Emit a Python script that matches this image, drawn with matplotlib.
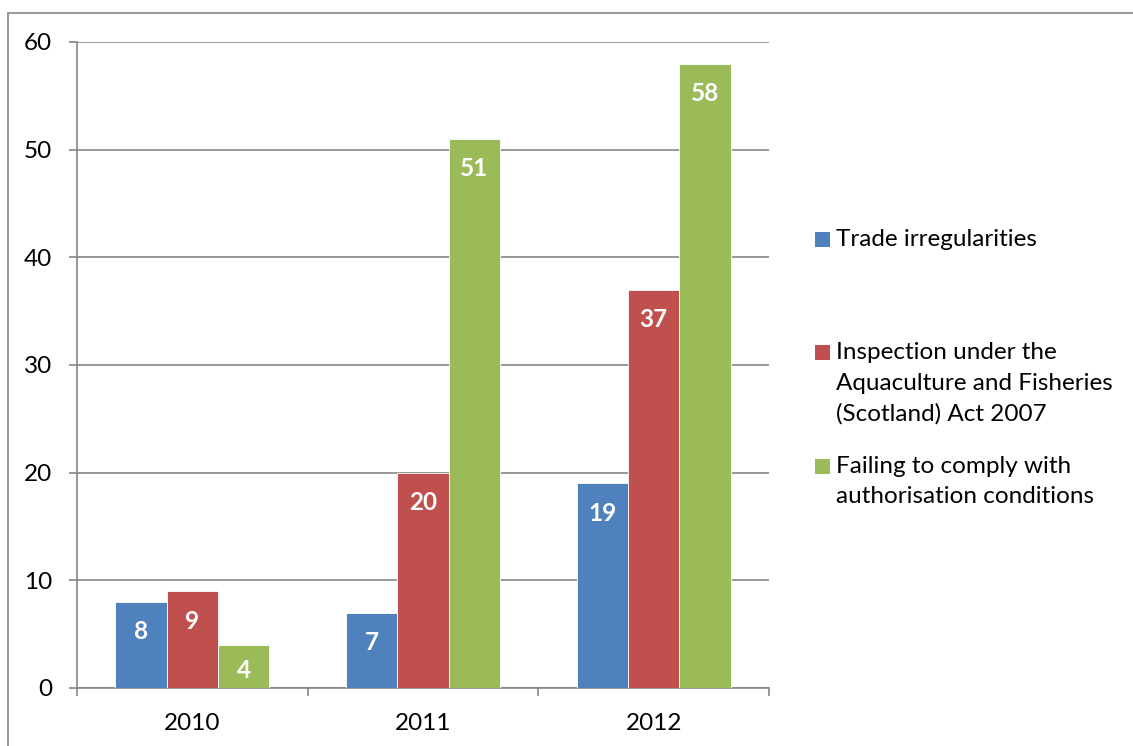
import matplotlib
matplotlib.use("Agg")
import matplotlib.pyplot as plt
import numpy as np
from matplotlib.patches import Rectangle

years = ['2010', '2011', '2012']
series = ['Trade irregularities',
          'Inspection under the\nAquaculture and Fisheries\n(Scotland) Act 2007',
          'Failing to comply with\nauthorisation conditions']
trade = [8, 7, 19]
inspection = [9, 20, 37]
failing = [4, 51, 58]
colors = ['#4F81BD', '#C0504D', '#9BBB59']

plt.rcParams['font.family'] = ['Lato', 'DejaVu Sans']
FS = 17.5

W, H = 1133, 746
fig = plt.figure(figsize=(W / 100, H / 100), dpi=100)
ax = fig.add_axes([77 / W, 1 - 688 / H, (769 - 77) / W, (688 - 42) / H])

# chart area border (runs off the right and bottom edge)
fig.patches.append(Rectangle((8 / W, -0.1), 1.2, 1 - 13 / H + 0.1, transform=fig.transFigure,
                             fill=False, edgecolor='#868686', linewidth=1.2))

x = np.arange(len(years))
w = 1 / 4.5  # gap width 150%
values = [trade, inspection, failing]
px_per_unit = (688 - 42) / 60

for i, (vals, c) in enumerate(zip(values, colors)):
    bars = ax.bar(x + (i - 1) * w, vals, w, color=c, edgecolor='white', linewidth=0.6, zorder=3)
    for b, v in zip(bars, vals):
        hpx = v * px_per_unit
        off = min(30, hpx / 2 + 4)
        ax.annotate(str(v), (b.get_x() + b.get_width() / 2, v), xytext=(0, -off),
                    textcoords='offset pixels', ha='center', va='center',
                    color='white', fontsize=FS, fontweight='bold', zorder=4)

ax.set_xlim(-0.5, 2.5)
ax.set_ylim(0, 60)
ax.set_yticks(range(0, 61, 10))
ax.yaxis.grid(True, color='#868686', linewidth=1.2, zorder=0)
ax.tick_params(axis='y', length=6, width=1.2, color='#868686', labelsize=FS, pad=12)
ax.set_xticks([-0.5, 0.5, 1.5, 2.5])
ax.set_xticklabels([])
ax.set_xticks(x, minor=True)
ax.set_xticklabels(years, minor=True)
ax.tick_params(axis='x', which='major', length=6, width=1.2, color='#868686')
ax.tick_params(axis='x', which='minor', length=0, labelsize=FS, pad=18)
for s in ['top', 'right']:
    ax.spines[s].set_visible(False)
for s in ['left', 'bottom']:
    ax.spines[s].set_color('#868686')
    ax.spines[s].set_linewidth(1.2)

# legend
for i, (name, c) in enumerate(zip(series, colors)):
    ytop = 239 + i * 113.5
    fig.patches.append(Rectangle((815 / W, 1 - (ytop + 7.5) / H), 15 / W, 15 / H,
                                 transform=fig.transFigure, facecolor=c, edgecolor='none'))
    fig.text(836 / W, 1 - (ytop - 10) / H, name, fontsize=FS, va='top', ha='left',
             linespacing=1.55)

fig.savefig('out.png', dpi=100)
